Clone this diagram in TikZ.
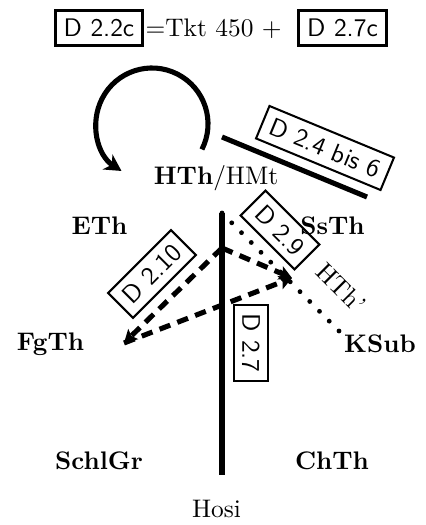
\documentclass[tikz,border=0pt]{standalone}
\usetikzlibrary{arrows.meta}
\begin{document}
\begin{tikzpicture}[x=0.39216bp,y=-0.39216bp,
  lbl/.style={inner sep=0pt, anchor=base},
  blab/.style={lbl, font=\bfseries},
  tbox/.style={draw, line width=1pt, font=\sffamily, anchor=base},
  rbox/.style={draw, thick, font=\sffamily},
  heavy/.style={line width=2pt},
  tip/.style={-{Stealth[length=5pt,width=5.5pt,inset=1pt]}},
  bigtip/.style={-{Stealth[length=6.5pt,width=7pt,inset=2pt]}},
  dashline/.style={heavy, dash pattern=on 4.5pt off 3pt, tip},
  dotline/.style={line width=1.9pt, line cap=round, dash pattern=on 0pt off 5.45pt}]
\useasboundingbox (0,0) rectangle (425,525);
% top formula
\node[tbox] (d22c) at (99,36.5) {D 2.2c};
\node[lbl, anchor=base west] (tkt) at (145,36.5) {$=$Tkt 450 $+$};
\node[tbox] (d27c) at (342.5,36.5) {D 2.7c};
% labels
\node[lbl] (hth) at (216,184.5) {\textbf{HTh}/HMt};
\node[blab] (eth) at (99.5,235) {ETh};
\node[blab] (ssth) at (332.5,235) {SsTh};
\node[blab] (fgth) at (50.5,350) {FgTh};
\node[blab] (ksub) at (380,352) {KSub};
\node[blab] (schlgr) at (99,469) {SchlGr};
\node[blab] (chth) at (332,469) {ChTh};
\node[lbl] (hosi) at (216.5,517) {Hosi};
% coordinates
\coordinate (top) at (222,213);
\coordinate (bot) at (222,475);
\coordinate (mid) at (222,248);
\coordinate (fg) at (124,343);
\coordinate (hp) at (292,278);
\coordinate (ks) at (340,332);
\coordinate (la) at (222,137);
\coordinate (lb) at (367,197);
\coordinate (lc) at (152,124);
% loop
\draw[heavy,bigtip] ([shift={(27:56)}]lc) arc[start angle=27, end angle=-237, radius=56];
% D 2.4 bis 6 line
\draw[heavy] (la) -- (lb);
\node[rbox, rotate=-22.5] (d24) at (325,148) {D 2.4 bis 6};
% vertical line
\draw[heavy] (top) -- (bot);
\node[rbox, rotate=-90] (d27) at (251,343) {D 2.7};
% dotted line
\draw[dotline] (top) -- (ks);
\node[rbox, rotate=-45] (d29) at (280,230) {D 2.9};
\node[lbl, anchor=center, rotate=-45] (hthp) at (341,288) {HTh'};
% dashed lines
\draw[dashline] (mid) -- (fg);
\draw[dashline] (fg) -- (hp);
\draw[dashline] (mid) -- (hp);
\node[rbox, rotate=45] (d210) at (152,274) {D 2.10};
\end{tikzpicture}
\end{document}
